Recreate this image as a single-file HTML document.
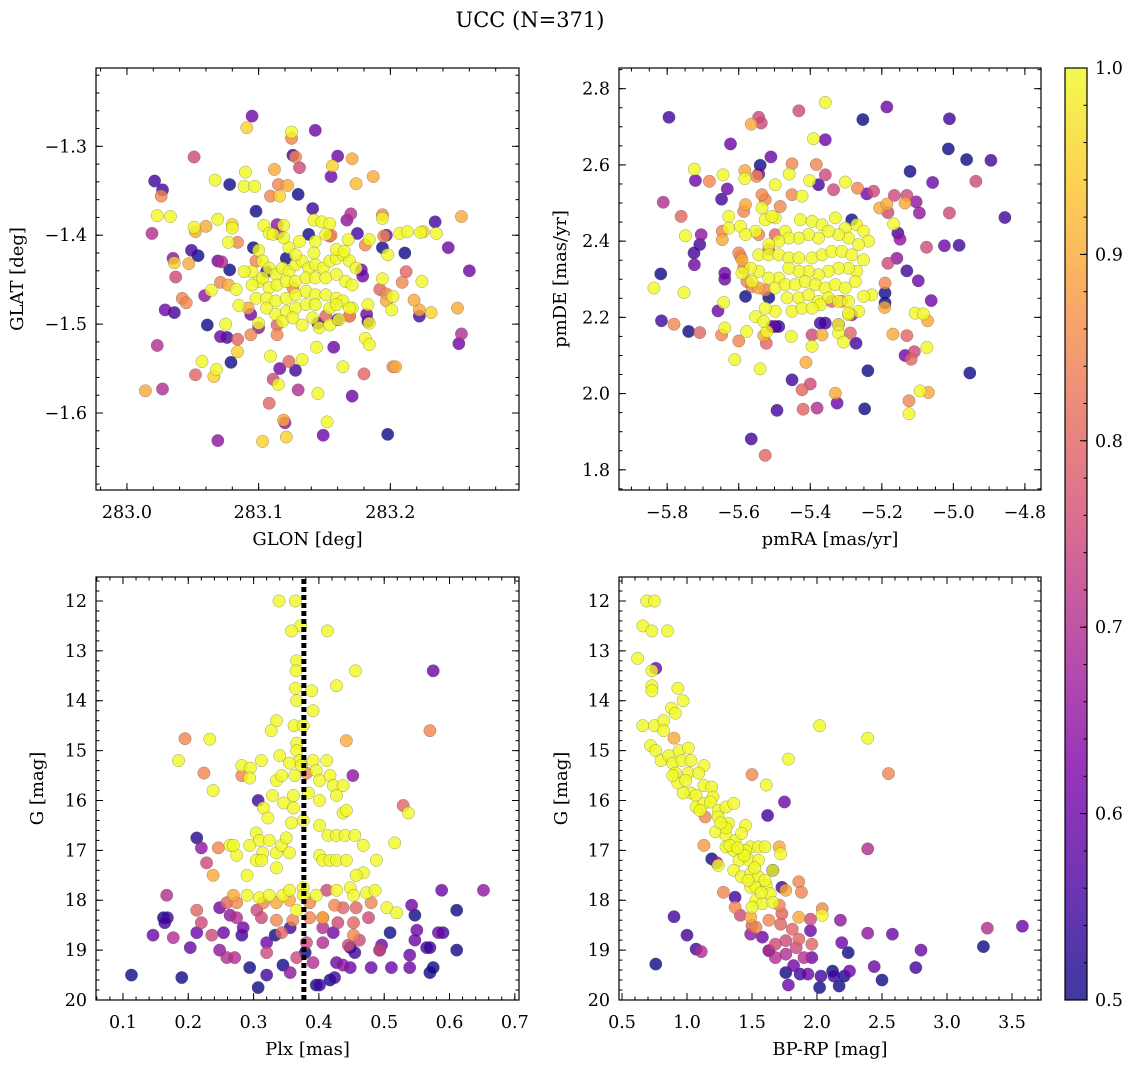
<!DOCTYPE html>
<html><head><meta charset="utf-8"><style>
html,body{margin:0;padding:0;background:#fff;}
svg{display:block;font-family:"DejaVu Serif","Liberation Serif",serif;}
</style></head><body>
<svg id="chart" width="1136" height="1067" viewBox="0 0 1136 1067" xmlns="http://www.w3.org/2000/svg">
<defs>
<linearGradient id="plasma" x1="0" y1="1" x2="0" y2="0">
<stop offset="0" stop-color="#0d0887"/><stop offset="0.125" stop-color="#4c02a1"/><stop offset="0.25" stop-color="#7e03a8"/><stop offset="0.375" stop-color="#a92395"/><stop offset="0.5" stop-color="#cc4778"/><stop offset="0.625" stop-color="#e56b5d"/><stop offset="0.75" stop-color="#f89540"/><stop offset="0.875" stop-color="#fdc527"/><stop offset="1" stop-color="#f0f921"/>
</linearGradient>
</defs>
<text x="530" y="27" font-size="21" text-anchor="middle">UCC (N=371)</text>
</svg>
<script>
// ---------- data: [x, y, membership probability] ----------
const glonGlatRows=[[283.095,-1.266,0.6],[283.091,-1.279,0.95],[283.125,-1.284,1],[283.125,-1.291,0.85],[283.143,-1.282,0.6],[283.051,-1.312,0.75],[283.126,-1.31,0.55],[283.128,-1.312,0.85],[283.131,-1.324,0.75],[283.16,-1.311,0.6],[283.171,-1.314,0.9],[283.156,-1.322,0.95],[283.155,-1.334,0.6],[283.187,-1.334,0.9],[283.174,-1.342,0.92],[283.021,-1.339,0.55],[283.027,-1.349,0.55],[283.026,-1.356,0.85],[283.067,-1.338,1],[283.078,-1.343,0.5],[283.09,-1.329,1],[283.089,-1.345,1],[283.097,-1.345,1],[283.112,-1.326,0.9],[283.115,-1.343,0.85],[283.122,-1.344,0.9],[283.109,-1.356,0.85],[283.116,-1.356,0.95],[283.13,-1.354,0.5],[283.023,-1.378,1],[283.033,-1.379,1],[283.019,-1.398,0.7],[283.051,-1.391,1],[283.052,-1.396,0.9],[283.06,-1.39,0.9],[283.069,-1.382,1],[283.08,-1.388,0.95],[283.08,-1.392,1],[283.098,-1.373,0.5],[283.104,-1.389,1],[283.108,-1.398,1],[283.114,-1.388,0.65],[283.119,-1.389,1],[283.115,-1.398,0.65],[283.141,-1.37,0.55],[283.142,-1.383,1],[283.148,-1.385,1],[283.154,-1.387,1],[283.155,-1.4,0.85],[283.17,-1.376,0.7],[283.167,-1.383,0.65],[283.194,-1.377,0.85],[283.194,-1.381,1],[283.175,-1.398,0.55],[283.168,-1.405,1],[283.184,-1.405,1],[283.181,-1.411,0.85],[283.197,-1.4,0.6],[283.195,-1.401,0.85],[283.207,-1.398,1],[283.213,-1.396,1],[283.223,-1.397,1],[283.225,-1.396,0.95],[283.234,-1.385,0.55],[283.235,-1.398,1],[283.254,-1.379,0.9],[283.244,-1.414,0.6],[283.26,-1.44,0.6],[283.049,-1.417,0.55],[283.054,-1.423,0.5],[283.035,-1.426,0.65],[283.036,-1.431,0.95],[283.047,-1.432,0.9],[283.037,-1.447,0.75],[283.069,-1.429,0.6],[283.072,-1.43,0.7],[283.078,-1.439,0.5],[283.071,-1.453,0.85],[283.077,-1.456,0.9],[283.083,-1.461,1],[283.064,-1.462,1],[283.059,-1.468,0.65],[283.042,-1.471,0.85],[283.045,-1.476,0.85],[283.029,-1.484,0.6],[283.036,-1.487,0.55],[283.077,-1.408,1],[283.084,-1.408,0.85],[283.096,-1.414,0.5],[283.1,-1.417,1],[283.095,-1.441,1],[283.1,-1.452,1],[283.085,-1.479,1],[283.094,-1.489,0.6],[283.092,-1.482,0.9],[283.1,-1.499,1],[283.1,-1.504,0.65],[283.075,-1.5,1],[283.061,-1.501,0.5],[283.071,-1.514,0.6],[283.076,-1.515,0.55],[283.084,-1.517,0.8],[283.094,-1.512,0.85],[283.084,-1.531,0.95],[283.114,-1.512,0.85],[283.023,-1.524,0.7],[283.057,-1.542,1],[283.079,-1.543,0.5],[283.068,-1.551,1],[283.066,-1.559,0.95],[283.052,-1.557,0.8],[283.109,-1.536,1],[283.123,-1.542,0.8],[283.133,-1.54,1],[283.116,-1.55,0.6],[283.128,-1.552,0.55],[283.111,-1.562,0.75],[283.115,-1.568,1],[283.13,-1.574,0.7],[283.014,-1.575,0.9],[283.027,-1.573,0.7],[283.144,-1.526,1],[283.157,-1.526,0.6],[283.145,-1.578,1],[283.164,-1.548,1],[283.171,-1.581,0.6],[283.18,-1.556,0.8],[283.202,-1.548,0.85],[283.204,-1.548,0.9],[283.181,-1.516,1],[283.184,-1.523,1],[283.108,-1.589,0.8],[283.119,-1.608,0.9],[283.12,-1.611,0.65],[283.152,-1.61,1],[283.121,-1.627,0.95],[283.103,-1.632,0.95],[283.149,-1.625,0.6],[283.198,-1.624,0.5],[283.069,-1.631,0.65],[283.252,-1.522,0.6],[283.254,-1.511,0.7],[283.222,-1.491,0.55],[283.222,-1.484,0.9],[283.231,-1.487,0.95],[283.251,-1.482,0.9],[283.218,-1.473,0.9],[283.212,-1.441,0.8],[283.209,-1.453,0.85],[283.224,-1.452,1],[283.194,-1.449,1],[283.192,-1.461,0.8],[283.197,-1.466,0.85],[283.202,-1.469,1],[283.197,-1.474,0.9],[283.201,-1.484,1],[283.211,-1.42,0.5],[283.194,-1.414,0.5],[283.198,-1.422,1],[283.179,-1.446,0.6],[283.178,-1.439,0.6],[283.183,-1.478,1],[283.182,-1.489,0.6],[283.184,-1.499,1],[283.169,-1.491,0.85],
[283.089,-1.441,1],[283.095,-1.456,1],[283.103,-1.429,1],[283.108,-1.437,1],[283.113,-1.444,1],[283.118,-1.437,1],[283.123,-1.441,1],[283.128,-1.433,1],[283.133,-1.429,1],[283.138,-1.437,1],[283.143,-1.433,1],[283.149,-1.437,1],[283.154,-1.429,1],[283.159,-1.426,1],[283.164,-1.422,1],[283.169,-1.429,1],[283.174,-1.437,1],[283.103,-1.448,1],[283.108,-1.459,1],[283.114,-1.456,1],[283.121,-1.452,1],[283.128,-1.452,1],[283.136,-1.448,1],[283.143,-1.448,1],[283.151,-1.448,1],[283.159,-1.444,1],[283.166,-1.452,1],[283.171,-1.456,1],[283.098,-1.471,1],[283.106,-1.471,1],[283.113,-1.474,1],[283.121,-1.471,1],[283.128,-1.467,1],[283.136,-1.463,1],[283.143,-1.467,1],[283.151,-1.467,1],[283.159,-1.471,1],[283.164,-1.474,1],[283.106,-1.482,1],[283.113,-1.489,1],[283.121,-1.486,1],[283.128,-1.482,1],[283.136,-1.478,1],[283.143,-1.478,1],[283.154,-1.482,1],[283.159,-1.478,1],[283.171,-1.482,1],[283.118,-1.497,1],[283.126,-1.493,1],[283.133,-1.501,1],[283.141,-1.493,1],[283.146,-1.504,1],[283.154,-1.501,1],[283.161,-1.495,1],[283.169,-1.482,1],[283.131,-1.407,1],[283.143,-1.407,1],[283.151,-1.399,1],[283.159,-1.416,1],[283.123,-1.414,1],[283.128,-1.422,1],[283.142,-1.42,1],[283.165,-1.418,1],[283.111,-1.399,1],[283.119,-1.403,1],
[283.106,-1.441,0.55],[283.121,-1.426,0.5],[283.138,-1.399,0.5],[283.154,-1.401,0.8],[283.151,-1.491,0.8],[283.145,-1.499,0.55],[283.16,-1.495,0.55],[283.183,-1.497,0.55],[283.114,-1.501,0.8],[283.098,-1.429,0.85],[283.169,-1.491,0.8],[283.126,-1.459,0.85]];

const pmRows=[[-5.795,2.725,0.55],[-5.358,2.764,1],[-5.432,2.742,0.75],[-5.544,2.725,0.75],[-5.537,2.71,0.75],[-5.565,2.707,0.9],[-5.253,2.719,0.5],[-5.186,2.752,0.6],[-5.011,2.721,0.55],[-5.014,2.642,0.5],[-4.963,2.614,0.5],[-4.895,2.612,0.55],[-5.121,2.583,0.5],[-5.058,2.554,0.6],[-4.937,2.557,0.75],[-4.856,2.462,0.55],[-5.623,2.655,0.6],[-5.391,2.669,1],[-5.358,2.666,0.6],[-5.51,2.621,0.6],[-5.54,2.599,0.5],[-5.451,2.603,0.85],[-5.383,2.601,0.85],[-5.724,2.589,1],[-5.721,2.559,0.6],[-5.682,2.557,0.85],[-5.644,2.574,1],[-5.583,2.585,0.9],[-5.583,2.564,1],[-5.55,2.57,0.85],[-5.544,2.576,0.6],[-5.498,2.548,1],[-5.459,2.576,1],[-5.402,2.559,1],[-5.377,2.548,0.55],[-5.358,2.574,0.75],[-5.335,2.535,0.75],[-5.302,2.555,1],[-5.268,2.539,0.85],[-5.242,2.524,0.6],[-5.223,2.531,0.75],[-5.632,2.537,0.6],[-5.648,2.51,0.55],[-5.811,2.502,0.7],[-5.761,2.465,0.8],[-5.749,2.414,1],[-5.705,2.417,0.65],[-5.709,2.391,0.55],[-5.725,2.369,0.55],[-5.724,2.338,0.6],[-5.818,2.314,0.5],[-5.837,2.277,1],[-5.753,2.265,1],[-5.639,2.316,0.6],[-5.639,2.3,0.6],[-5.642,2.239,1],[-5.658,2.217,0.6],[-5.816,2.191,0.55],[-5.781,2.182,0.85],[-5.74,2.163,0.5],[-5.709,2.16,0.8],[-5.648,2.154,0.85],[-5.639,2.172,1],[-5.611,2.089,1],[-5.6,2.138,0.85],[-5.578,2.163,1],[-5.54,2.065,1],[-5.53,2.152,0.9],[-5.523,2.132,0.8],[-5.498,2.176,0.55],[-5.521,2.163,1],[-5.453,2.15,1],[-5.395,2.154,0.75],[-5.395,2.124,1],[-5.367,2.154,0.9],[-5.358,2.185,0.55],[-5.321,2.181,0.65],[-5.321,2.159,1],[-5.307,2.135,1],[-5.288,2.159,0.8],[-5.272,2.132,0.55],[-5.412,2.082,0.9],[-5.451,2.036,0.55],[-5.423,2.01,0.8],[-5.4,2.025,0.75],[-5.33,2.001,0.9],[-5.325,1.975,0.6],[-5.381,1.962,0.7],[-5.42,1.959,0.8],[-5.493,1.956,0.55],[-5.565,1.881,0.55],[-5.526,1.838,0.8],[-5.248,1.96,0.5],[-5.239,2.06,0.5],[-5.169,2.156,0.9],[-5.13,2.152,0.8],[-5.135,2.1,0.6],[-5.118,2.09,0.8],[-5.109,2.11,0.75],[-5.074,2.121,1],[-5.107,2.211,1],[-5.084,2.209,1],[-5.072,2.191,0.9],[-5.093,2.007,1],[-5.07,2.003,0.9],[-5.124,1.981,0.85],[-5.124,1.947,1],[-4.954,2.054,0.5],[-5.062,2.244,0.6],[-5.098,2.296,0.6],[-5.13,2.322,0.55],[-5.191,2.29,0.85],[-5.191,2.264,0.5],[-5.191,2.238,0.5],[-5.192,2.226,0.9],[-5.158,2.355,0.65],[-5.183,2.342,0.75],[-5.075,2.384,0.75],[-5.025,2.388,0.6],[-4.984,2.389,0.55],[-5.155,2.421,0.55],[-5.149,2.405,0.65],[-5.167,2.445,1],[-5.206,2.487,0.9],[-5.186,2.497,0.9],[-5.183,2.475,0.75],[-5.135,2.5,0.9],[-5.13,2.52,0.75],[-5.104,2.503,0.65],[-5.095,2.474,0.65],[-5.011,2.474,0.75],[-5.165,2.52,0.75],
[-5.628,2.465,1],[-5.628,2.434,1],[-5.595,2.439,1],[-5.553,2.426,1],[-5.526,2.456,1],[-5.498,2.461,1],[-5.47,2.426,1],[-5.428,2.456,1],[-5.395,2.452,1],[-5.367,2.443,1],[-5.33,2.461,1],[-5.302,2.434,1],[-5.27,2.443,1],[-5.251,2.426,1],[-5.237,2.4,1],[-5.265,2.391,1],[-5.293,2.408,1],[-5.321,2.417,1],[-5.349,2.426,1],[-5.377,2.408,1],[-5.405,2.417,1],[-5.432,2.408,1],[-5.46,2.408,1],[-5.488,2.4,1],[-5.516,2.391,1],[-5.544,2.364,1],[-5.516,2.364,1],[-5.488,2.364,1],[-5.46,2.356,1],[-5.432,2.356,1],[-5.395,2.356,1],[-5.367,2.364,1],[-5.34,2.373,1],[-5.312,2.373,1],[-5.284,2.364,1],[-5.251,2.351,1],[-5.27,2.321,1],[-5.293,2.329,1],[-5.321,2.329,1],[-5.349,2.321,1],[-5.377,2.312,1],[-5.405,2.321,1],[-5.432,2.321,1],[-5.46,2.329,1],[-5.488,2.303,1],[-5.516,2.303,1],[-5.544,2.321,1],[-5.567,2.329,1],[-5.591,2.316,1],[-5.563,2.294,1],[-5.498,2.277,1],[-5.47,2.286,1],[-5.442,2.286,1],[-5.414,2.294,1],[-5.386,2.286,1],[-5.358,2.277,1],[-5.33,2.286,1],[-5.302,2.277,1],[-5.274,2.294,1],[-5.465,2.251,1],[-5.432,2.251,1],[-5.405,2.259,1],[-5.377,2.242,1],[-5.349,2.251,1],[-5.321,2.242,1],[-5.293,2.242,1],[-5.265,2.216,1],[-5.293,2.207,1],[-5.321,2.181,1],[-5.451,2.216,1],[-5.498,2.216,1],[-5.526,2.224,1],[-5.553,2.202,1],[-5.53,2.189,1],[-5.423,2.224,1],[-5.372,2.233,1],[-5.395,2.224,1],[-5.228,2.259,1],[-5.251,2.255,1],[-5.535,2.487,1],[-5.507,2.465,1],[-5.581,2.417,1],
[-5.595,2.36,0.85],[-5.586,2.329,0.85],[-5.577,2.294,0.85],[-5.563,2.281,0.85],[-5.544,2.277,0.9],[-5.526,2.272,0.85],[-5.591,2.351,0.9],[-5.6,2.369,0.85],[-5.646,2.426,0.85],[-5.646,2.404,0.9],[-5.544,2.417,0.85],[-5.516,2.378,0.8],[-5.498,2.417,0.8],[-5.581,2.496,0.9],[-5.526,2.509,0.85],[-5.484,2.491,0.85],[-5.451,2.522,0.85],[-5.423,2.518,1],[-5.535,2.522,0.85],[-5.586,2.478,0.85],[-5.34,2.242,0.8],[-5.312,2.242,0.85],[-5.293,2.211,1],[-5.507,2.176,0.6],[-5.488,2.176,0.55],[-5.581,2.255,0.5],[-5.516,2.252,0.5],[-5.284,2.456,0.5],[-5.284,2.207,0.65],[-5.372,2.185,0.55]];

const plxGRows=[[0.339,12.0,1],[0.364,12.0,1],[0.372,12.5,1],[0.358,12.6,1],[0.413,12.6,1],[0.366,13.2,1],[0.365,13.4,1],[0.456,13.4,1],[0.389,13.8,1],[0.364,13.75,1],[0.366,14.0,1],[0.391,14.2,1],[0.427,13.7,1],[0.335,14.4,1],[0.327,14.6,1],[0.362,14.5,1],[0.376,14.5,1],[0.442,14.8,0.9],[0.233,14.77,1],[0.195,14.76,0.85],[0.185,15.2,1],[0.224,15.45,0.85],[0.238,15.8,1],[0.57,14.6,0.85],[0.575,13.4,0.6],[0.366,14.85,1],[0.366,15.0,1],[0.371,15.2,1],[0.34,15.1,1],[0.355,15.25,1],[0.373,15.3,1],[0.391,15.2,1],[0.412,15.2,1],[0.312,15.2,1],[0.282,15.3,1],[0.295,15.35,1],[0.282,15.5,0.85],[0.294,15.55,1],[0.335,15.6,1],[0.343,15.5,1],[0.363,15.5,1],[0.381,15.45,0.85],[0.396,15.4,1],[0.401,15.6,1],[0.417,15.5,1],[0.422,15.7,1],[0.437,15.7,1],[0.427,15.9,1],[0.437,16.25,1],[0.442,16.2,1],[0.452,15.5,0.65],[0.329,15.9,1],[0.346,16.05,1],[0.361,15.9,1],[0.384,15.85,1],[0.401,16.0,1],[0.361,16.15,1],[0.358,16.45,1],[0.376,16.4,1],[0.315,16.15,1],[0.322,16.35,1],[0.307,16.0,0.55],[0.529,16.1,0.8],[0.537,16.25,1],[0.213,16.75,0.52],[0.22,16.95,0.65],[0.228,17.25,0.75],[0.238,17.5,0.9],[0.246,16.95,0.85],[0.264,16.9,1],[0.274,17.1,1],[0.269,16.9,1],[0.294,16.9,1],[0.304,16.65,1],[0.309,16.8,1],[0.314,17.05,1],[0.304,17.2,1],[0.324,16.8,1],[0.335,17.05,1],[0.343,16.9,1],[0.335,17.35,1],[0.35,16.75,1],[0.355,17.05,1],[0.312,17.2,1],[0.29,17.5,1],[0.401,16.5,1],[0.414,16.7,1],[0.427,16.7,1],[0.44,16.7,1],[0.455,16.7,1],[0.468,16.9,1],[0.401,17.1,1],[0.406,17.2,1],[0.417,17.2,1],[0.427,17.2,1],[0.442,17.2,1],[0.488,17.2,1],[0.468,17.45,1],[0.457,17.5,1],[0.516,16.85,1],[0.427,17.8,1],[0.448,17.75,1],[0.453,17.9,1],[0.473,17.85,1],[0.486,17.8,1],[0.504,18.15,1],[0.519,18.25,1],[0.269,17.9,0.9],[0.29,17.9,1],[0.309,17.95,1],[0.324,17.9,1],[0.345,17.9,1],[0.355,17.8,1],[0.376,17.75,1],[0.376,17.9,1],[0.396,17.9,1],[0.366,18.2,1],[0.259,18.05,0.8],[0.274,18.05,0.85],[0.315,18.05,0.85],[0.335,18.05,0.9],[0.355,18.0,0.9],[0.386,18.05,0.85],[0.406,18.35,0.9],[0.424,18.1,0.85],[0.437,18.15,0.8],[0.457,18.15,0.8],[0.48,18.05,0.85],[0.213,18.2,0.8],[0.22,18.45,0.75],[0.236,18.7,0.75],[0.305,18.2,0.75],[0.312,18.35,0.75],[0.335,18.4,0.85],[0.36,18.4,0.85],[0.386,18.35,0.85],[0.406,18.35,0.8],[0.429,18.45,0.75],[0.453,18.45,0.8],[0.476,18.35,0.75],[0.343,18.65,0.8],[0.381,18.85,0.75],[0.406,18.85,0.7],[0.453,18.7,0.85],[0.445,18.9,0.75],[0.493,19.0,0.75],[0.167,17.9,0.7],[0.168,18.35,0.55],[0.162,18.35,0.5],[0.164,18.45,0.55],[0.146,18.7,0.6],[0.177,18.75,0.7],[0.203,18.95,0.6],[0.213,18.65,0.6],[0.248,18.15,0.6],[0.254,18.65,0.6],[0.264,18.3,0.65],[0.274,18.35,0.7],[0.248,19.0,0.65],[0.259,19.15,0.7],[0.271,19.15,0.7],[0.284,18.55,0.6],[0.282,18.7,0.55],[0.32,18.85,0.6],[0.32,19.05,0.75],[0.333,18.7,0.5],[0.356,18.55,0.55],[0.366,19.15,0.75],[0.113,19.5,0.5],[0.19,19.55,0.5],[0.294,19.35,0.5],[0.307,19.75,0.5],[0.32,19.5,0.55],[0.345,19.3,0.5],[0.356,19.45,0.65],[0.379,19.05,0.5],[0.391,19.25,0.7],[0.396,19.7,0.5],[0.401,19.7,0.55],[0.417,19.6,0.5],[0.424,19.55,0.55],[0.427,19.25,0.6],[0.437,19.3,0.65],[0.448,19.35,0.6],[0.455,19.05,0.55],[0.448,18.95,0.55],[0.48,19.35,0.6],[0.493,19.0,0.55],[0.496,18.9,0.6],[0.509,18.65,0.5],[0.511,19.35,0.6],[0.539,19.35,0.6],[0.539,19.1,0.6],[0.542,18.1,0.6],[0.547,18.3,0.5],[0.55,18.6,0.6],[0.547,18.8,0.6],[0.565,18.95,0.55],[0.57,18.95,0.55],[0.57,19.45,0.5],[0.575,19.35,0.5],[0.583,18.65,0.6],[0.588,17.8,0.6],[0.59,18.65,0.55],[0.611,18.2,0.5],[0.611,19.0,0.5],[0.652,17.8,0.65],[0.412,17.8,0.75],[0.406,18.55,0.7],[0.422,18.65,0.6],[0.462,18.8,0.75]];

const bprpGRows=[[0.69,12.0,1],[0.75,12.0,1],[0.66,12.5,1],[0.73,12.6,1],[0.85,12.6,1],[0.62,13.15,1],[0.73,13.4,1],[0.76,13.35,0.6],[0.73,13.7,1],[0.73,13.8,1],[0.93,13.75,1],[0.97,14.0,1],[0.88,14.15,1],[0.91,14.25,1],[0.66,14.5,1],[0.75,14.5,1],[0.82,14.4,1],[0.82,14.6,1],[0.9,14.75,0.9],[0.72,14.9,1],[0.76,15.0,1],[0.8,15.2,1],[0.86,15.1,1],[0.89,15.25,1],[0.94,15.0,1],[1.01,14.95,1],[0.96,15.2,1],[0.91,15.45,1],[0.93,15.65,1],[0.89,15.5,1],[1.03,15.2,1],[1.01,15.45,1],[1.13,15.3,1],[1.09,15.45,1],[1.03,15.85,1],[1.07,15.9,1],[1.13,15.7,1],[1.19,15.73,1],[1.2,15.93,1],[1.07,16.13,1],[1.13,16.06,1],[1.18,16.03,1],[1.24,16.2,1],[1.3,16.13,1],[1.36,16.06,1],[1.32,16.46,1],[1.45,16.5,1],[1.14,16.33,0.85],[1.24,16.33,1],[1.22,16.63,1],[1.3,16.7,1],[1.37,16.8,1],[1.42,16.66,1],[1.3,16.93,1],[1.36,17.0,1],[1.49,16.93,1],[1.55,16.93,1],[1.6,16.93,1],[1.71,16.93,0.9],[1.4,17.2,1],[1.48,17.2,1],[1.55,17.2,1],[1.36,17.4,1],[1.42,17.53,1],[1.49,17.46,1],[1.55,17.53,1],[1.66,17.4,1],[1.72,17.07,1],[1.49,17.74,1],[1.53,17.74,1],[1.61,17.7,1],[1.64,17.87,1],[1.53,18.0,1],[1.58,18.07,1],[1.66,18.04,1],[1.5,18.14,1],[1.49,18.34,0.9],[1.63,18.4,0.85],[1.53,18.54,0.85],[1.73,18.27,0.8],
[1.13,16.9,0.88],[1.28,17.84,0.85],[1.24,17.3,1],[1.86,17.63,0.85],[1.88,17.84,0.85],[1.76,17.8,0.9],[1.37,18.14,0.85],[1.71,18.1,0.85],[2.04,18.17,0.85],[2.04,18.3,1],[1.86,18.34,0.9],[1.95,18.38,0.75],[1.72,18.48,0.8],[1.81,18.58,0.8],[1.86,18.78,0.8],[1.76,18.81,0.75],[1.68,18.88,0.75],[1.63,19.01,0.7],[1.68,19.15,0.7],[1.76,19.08,0.7],[1.84,18.95,0.75],[1.9,19.15,0.7],[1.96,18.88,0.8],[1.96,19.15,0.6],[1.41,18.3,0.75],[1.5,18.51,0.8],[1.49,18.68,0.65],[1.58,18.74,0.6],
[0.9,18.33,0.55],[1.0,18.7,0.55],[1.07,18.98,0.55],[1.11,19.03,0.7],[0.76,19.28,0.5],[1.19,17.17,0.5],[1.23,17.25,0.65],[1.37,17.94,0.55],[1.62,16.3,0.55],[1.75,16.03,0.6],[2.39,16.97,0.7],[2.18,18.4,0.65],[2.19,18.85,0.6],[2.24,19.05,0.5],[2.39,18.66,0.65],[2.58,18.68,0.6],[2.44,19.33,0.6],[2.5,19.6,0.5],[2.76,19.35,0.55],[2.8,19.0,0.6],[3.28,18.93,0.5],[3.31,18.56,0.7],[3.58,18.52,0.6],[1.76,19.45,0.5],[1.87,19.48,0.55],[1.78,19.7,0.6],[1.82,19.31,0.6],[1.93,19.48,0.6],[2.02,19.75,0.5],[2.03,19.52,0.55],[2.12,19.42,0.5],[2.13,19.52,0.55],[2.17,19.72,0.5],[2.21,19.52,0.5],[2.25,19.42,0.6],[1.95,18.61,0.6],[1.73,17.74,0.55],[1.66,17.4,0.5],[1.63,19.01,0.55],
[2.02,14.5,1],[2.39,14.75,1],[1.78,15.17,1],[1.61,15.69,1],[1.5,15.48,0.85],[2.55,15.46,0.85],
[1.33,16.9,1],[1.45,17.0,1],[1.52,17.35,1],[1.6,17.6,1],[1.44,17.1,1],[1.39,16.95,1],[1.47,17.6,1],[1.57,17.85,1],[1.3,16.55,1],[1.26,16.45,1],[0.99,15.6,1],[0.97,15.85,1],[1.1,16.2,1]];

const plxLine=0.377;
const glonTicks=[283.0,283.1,283.2];
const glatTicks=[-1.3,-1.4,-1.5,-1.6];
const pmraTicks=[-5.8,-5.6,-5.4,-5.2,-5.0,-4.8];
const pmdeTicks=[1.8,2.0,2.2,2.4,2.6,2.8];
const plxTicks=[0.1,0.2,0.3,0.4,0.5,0.6,0.7];
const magTicks=[12,13,14,15,16,17,18,19,20];
const bprpTicks=[0.5,1.0,1.5,2.0,2.5,3.0,3.5];
const cbTicks=[0.5,0.6,0.7,0.8,0.9,1.0];

// ---------- helpers ----------
const NS="http://www.w3.org/2000/svg";
const svg=document.getElementById('chart');
function mk(tag,attrs,parent){const e=document.createElementNS(NS,tag);for(const k in attrs)e.setAttribute(k,attrs[k]);(parent||svg).appendChild(e);return e;}
const stops=[[13,8,135],[76,2,161],[126,3,168],[169,35,149],[204,71,120],[229,107,93],[248,149,64],[253,197,39],[240,249,33]];
function plasma(p){let t=Math.max(0,Math.min(1,(p-0.5)/0.5))*8;const i=Math.min(7,Math.floor(t));const f=t-i;const a=stops[i],b=stops[i+1];return 'rgb('+a.map((v,k)=>Math.round(v+(b[k]-v)*f)).join(',')+')';}
function fmt(v,d){return (v<0?'\u2212':'')+Math.abs(v).toFixed(d);}

function panel(cfg){
  const {name,x0,x1,y0,y1,xd,yd,rows,xTicks,yTicks,xMinor,yMinor,xDec,yDec,xLabel,yLabel}=cfg;
  const g=mk('g',{});
  
  
  const sx=v=>x0+(v-xd[0])/(xd[1]-xd[0])*(x1-x0);
  const sy=v=>y0+(v-yd[0])/(yd[1]-yd[0])*(y1-y0);
  const clip='clip-'+name;
  const cp=mk('clipPath',{id:clip},g);mk('rect',{x:x0,y:y0,width:x1-x0,height:y1-y0},cp);
  const pts=mk('g',{'clip-path':'url(#'+clip+')'},g);
  
  
  const idx=rows.map((_,i)=>i).sort((a,b)=>rows[a][2]-rows[b][2]);
  idx.forEach(i=>{
    const r=rows[i];
    const c=mk('circle',{cx:sx(r[0]),cy:sy(r[1]),r:6.2,fill:plasma(r[2]),'fill-opacity':0.8,stroke:'#555','stroke-width':0.4,'stroke-opacity':0.7},pts);
    
    
  });
  if(cfg.extra)cfg.extra(g,sx,sy);
  const frame=mk('rect',{x:x0,y:y0,width:x1-x0,height:y1-y0,fill:'none',stroke:'#000','stroke-width':1.2},g);
  
  
  const lo=Math.min(xd[0],xd[1]),hi=Math.max(xd[0],xd[1]);
  for(let k=Math.ceil(lo/xMinor-1e-6);k*xMinor<=hi+1e-9;k++){const X=sx(k*xMinor);mk('line',{x1:X,x2:X,y1:y1,y2:y1-3.5,stroke:'#000'},g);mk('line',{x1:X,x2:X,y1:y0,y2:y0+3.5,stroke:'#000'},g);}
  const ylo=Math.min(yd[0],yd[1]),yhi=Math.max(yd[0],yd[1]);
  for(let k=Math.ceil(ylo/yMinor-1e-6);k*yMinor<=yhi+1e-9;k++){const Y=sy(k*yMinor);mk('line',{x1:x0,x2:x0+3.5,y1:Y,y2:Y,stroke:'#000'},g);mk('line',{x1:x1,x2:x1-3.5,y1:Y,y2:Y,stroke:'#000'},g);}
  xTicks.forEach(v=>{const X=sx(v);mk('line',{x1:X,x2:X,y1:y1,y2:y1-7,stroke:'#000'},g);mk('line',{x1:X,x2:X,y1:y0,y2:y0+7,stroke:'#000'},g);
    const t=mk('text',{x:X,y:y1+28,'font-size':17.5,'text-anchor':'middle'},g);t.textContent=fmt(v,xDec);
    });
  yTicks.forEach(v=>{const Y=sy(v);mk('line',{x1:x0,x2:x0+7,y1:Y,y2:Y,stroke:'#000'},g);mk('line',{x1:x1,x2:x1-7,y1:Y,y2:Y,stroke:'#000'},g);
    const t=mk('text',{x:x0-9,y:Y+6,'font-size':17.5,'text-anchor':'end'},g);t.textContent=fmt(v,yDec);
    });
  const xl=mk('text',{x:(x0+x1)/2,y:y1+55,'font-size':18,'text-anchor':'middle'},g);xl.textContent=xLabel;
  
  const yl=mk('text',{x:0,y:0,'font-size':18,'text-anchor':'middle',transform:'translate('+(cfg.ylx)+','+((y0+y1)/2)+') rotate(-90)'},g);yl.textContent=yLabel;
  
}

panel({name:'glon-glat-panel',x0:96,x1:519,y0:68,y1:490,xd:[282.9765,283.2977],yd:[-1.2119,-1.6866],rows:glonGlatRows,
  xTicks:glonTicks,yTicks:glatTicks,xMinor:0.02,yMinor:0.02,xDec:1,yDec:1,xLabel:'GLON [deg]',yLabel:'GLAT [deg]',ylx:23});
panel({name:'pm-panel',x0:619,x1:1041,y0:68,y1:490,xd:[-5.9347,-4.755],yd:[2.8543,1.747],rows:pmRows,
  xTicks:pmraTicks,yTicks:pmdeTicks,xMinor:0.05,yMinor:0.05,xDec:1,yDec:1,xLabel:'pmRA [mas/yr]',yLabel:'pmDE [mas/yr]',ylx:566});
panel({name:'plx-g-panel',x0:96,x1:519,y0:577,y1:1000,xd:[0.0587,0.7064],yd:[11.519,20],rows:plxGRows,
  xTicks:plxTicks,yTicks:magTicks,xMinor:0.02,yMinor:0.2,xDec:1,yDec:0,xLabel:'Plx [mas]',yLabel:'G [mag]',ylx:43,
  extra:(g,sx,sy)=>{const l=mk('line',{x1:sx(plxLine),x2:sx(plxLine),y1:579,y2:1000,stroke:'#000','stroke-width':5,'stroke-dasharray':'5,3'},g);
    }});
panel({name:'cmd-panel',x0:619,x1:1041,y0:577,y1:1000,xd:[0.477,3.723],yd:[11.519,20],rows:bprpGRows,
  xTicks:bprpTicks,yTicks:magTicks,xMinor:0.1,yMinor:0.2,xDec:1,yDec:0,xLabel:'BP-RP [mag]',yLabel:'G [mag]',ylx:567});

// colorbar
const cb=mk('g',{});


mk('rect',{x:1065,y:68,width:22,height:932,fill:'url(#plasma)','fill-opacity':0.8},cb);
mk('rect',{x:1065,y:68,width:22,height:932,fill:'none',stroke:'#000','stroke-width':1.2},cb);
const cy=v=>1000-(v-0.5)/0.5*932;
for(let k=25;k<=50;k++){const v=k*0.02;mk('line',{x1:1087,x2:1083.5,y1:cy(v),y2:cy(v),stroke:'#000'},cb);}
cbTicks.forEach(v=>{mk('line',{x1:1087,x2:1080,y1:cy(v),y2:cy(v),stroke:'#000'},cb);
  const t=mk('text',{x:1095,y:cy(v)+6,'font-size':17.5},cb);t.textContent=v.toFixed(1);
  });
</script>
</body></html>
